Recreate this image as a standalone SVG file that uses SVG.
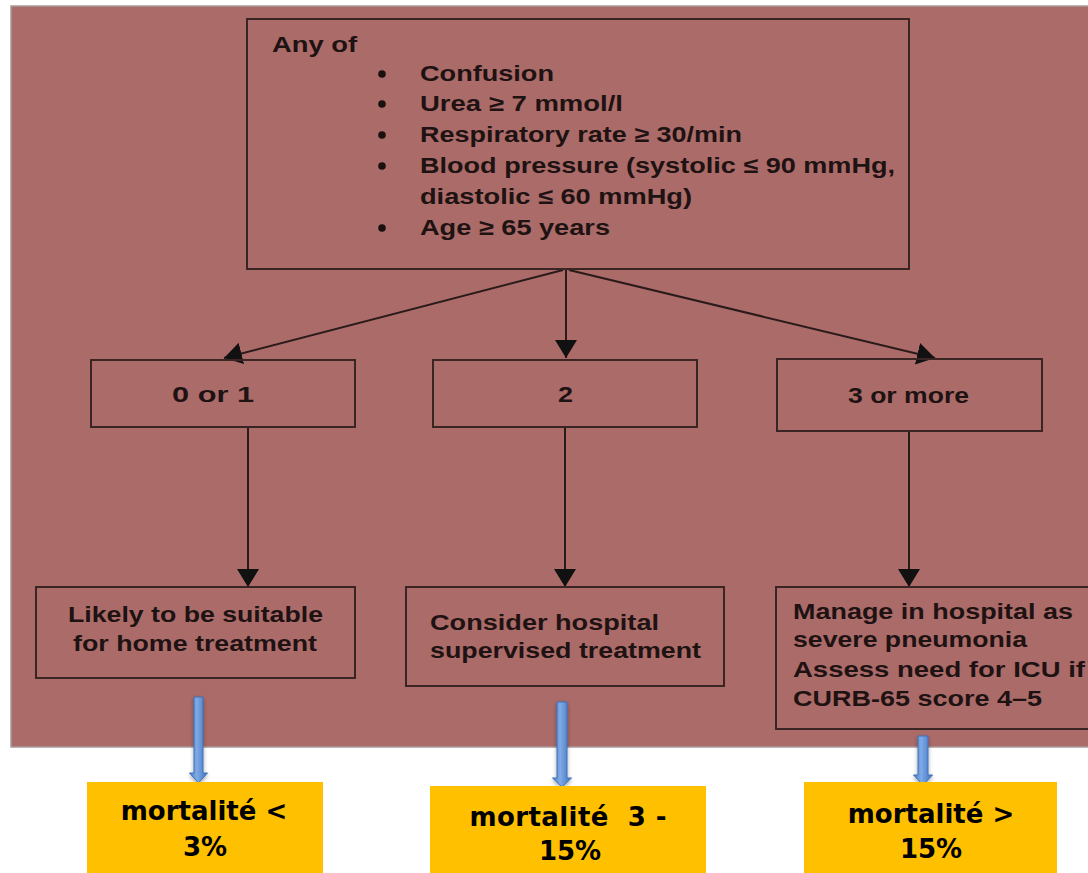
<svg xmlns="http://www.w3.org/2000/svg" width="1088" height="873" viewBox="0 0 1088 873">
  <defs>
    <style>
      .box{fill:none;stroke:#3a2424;stroke-width:2}
      .t{font-family:"Liberation Sans",Arial,sans-serif;font-weight:bold;font-size:22px;fill:#1e1212}
      .c{stroke:#2a1a1a;stroke-width:2;fill:none}
      .y{fill:#ffc000}
      .yt{font-family:"DejaVu Sans",Verdana,sans-serif;font-weight:bold;font-size:26px;fill:#000;text-anchor:middle}
      .blue{fill:url(#bg);stroke:#3f70b8;stroke-width:1}
    </style>
    <marker id="ahv" viewBox="0 0 18 22" refX="18" refY="11" markerWidth="18" markerHeight="22" markerUnits="userSpaceOnUse" orient="auto">
      <path d="M0,0 L18,11 L0,22 Z" fill="#111"/>
    </marker>
    <linearGradient id="bg" x1="0" y1="0" x2="1" y2="0">
      <stop offset="0" stop-color="#4a7dc6"/>
      <stop offset="0.4" stop-color="#7faae6"/>
      <stop offset="1" stop-color="#3f72be"/>
    </linearGradient>
    <filter id="sh" x="-50%" y="-10%" width="200%" height="130%">
      <feGaussianBlur in="SourceAlpha" stdDeviation="2"/>
      <feOffset dx="0" dy="2"/>
      <feComponentTransfer><feFuncA type="linear" slope="0.35"/></feComponentTransfer>
      <feMerge><feMergeNode/><feMergeNode in="SourceGraphic"/></feMerge>
    </filter>
  </defs>

  <rect x="0" y="0" width="1088" height="873" fill="#ffffff"/>
  <rect id="background" x="11" y="6" width="1080" height="741" fill="#ab6b69" stroke="#a89a9a" stroke-width="1.5"/>

  <g id="connectors">
    <line class="c" x1="563" y1="270" x2="224" y2="358" marker-end="url(#ahv)"/>
    <line class="c" x1="566" y1="270" x2="566" y2="358" marker-end="url(#ahv)"/>
    <line class="c" x1="569" y1="270" x2="935" y2="358" marker-end="url(#ahv)"/>
    <line class="c" x1="248" y1="428" x2="248" y2="587" marker-end="url(#ahv)"/>
    <line class="c" x1="565" y1="428" x2="565" y2="587" marker-end="url(#ahv)"/>
    <line class="c" x1="909" y1="431" x2="909" y2="587" marker-end="url(#ahv)"/>
    <g filter="url(#sh)">
      <path class="blue" d="M194,697 H203 V773 H207.5 L198.5,783 L189.5,773 H194 Z"/>
      <path class="blue" d="M557,702 H567 V778 H571.5 L562,787 L552.5,778 H557 Z"/>
      <path class="blue" d="M918,736 H928 V775 H932.5 L923,785 L913.5,775 H918 Z"/>
    </g>
  </g>

  <g id="criteria">
    <rect class="box" x="247" y="19" width="662" height="250"/>
    <text class="t" x="272" y="52" textLength="85" lengthAdjust="spacingAndGlyphs">Any of</text>
    <g fill="#1a1010">
      <circle cx="382" cy="74" r="3.8"/>
      <circle cx="382" cy="104" r="3.8"/>
      <circle cx="382" cy="135" r="3.8"/>
      <circle cx="382" cy="166" r="3.8"/>
      <circle cx="382" cy="228" r="3.8"/>
    </g>
    <text class="t" x="420" y="81" textLength="134" lengthAdjust="spacingAndGlyphs">Confusion</text>
    <text class="t" x="420" y="111" textLength="203" lengthAdjust="spacingAndGlyphs">Urea ≥ 7 mmol/l</text>
    <text class="t" x="420" y="142" textLength="322" lengthAdjust="spacingAndGlyphs">Respiratory rate ≥ 30/min</text>
    <text class="t" x="420" y="173" textLength="475" lengthAdjust="spacingAndGlyphs">Blood pressure (systolic ≤ 90 mmHg,</text>
    <text class="t" x="420" y="204" textLength="272" lengthAdjust="spacingAndGlyphs">diastolic ≤ 60 mmHg)</text>
    <text class="t" x="420" y="235" textLength="190" lengthAdjust="spacingAndGlyphs">Age ≥ 65 years</text>
  </g>

  <g id="score01">
    <rect class="box" x="91" y="360" width="264" height="67"/>
    <text class="t" x="172" y="402" textLength="82" lengthAdjust="spacingAndGlyphs">0 or 1</text>
  </g>
  <g id="score2">
    <rect class="box" x="433" y="360" width="264" height="67"/>
    <text class="t" x="558" y="402" textLength="15" lengthAdjust="spacingAndGlyphs">2</text>
  </g>
  <g id="score3">
    <rect class="box" x="777" y="359" width="265" height="72"/>
    <text class="t" x="848" y="403" textLength="121" lengthAdjust="spacingAndGlyphs">3 or more</text>
  </g>

  <g id="home">
    <rect class="box" x="36" y="587" width="319" height="91"/>
    <text class="t" x="68" y="622" textLength="255" lengthAdjust="spacingAndGlyphs">Likely to be suitable</text>
    <text class="t" x="73" y="651" textLength="244" lengthAdjust="spacingAndGlyphs">for home treatment</text>
  </g>
  <g id="hospital">
    <rect class="box" x="406" y="587" width="318" height="99"/>
    <text class="t" x="430" y="630" textLength="229" lengthAdjust="spacingAndGlyphs">Consider hospital</text>
    <text class="t" x="430" y="658" textLength="271" lengthAdjust="spacingAndGlyphs">supervised treatment</text>
  </g>
  <g id="severe">
    <rect class="box" x="776" y="587" width="320" height="142"/>
    <text class="t" x="793" y="619" textLength="280" lengthAdjust="spacingAndGlyphs">Manage in hospital as</text>
    <text class="t" x="793" y="647" textLength="234" lengthAdjust="spacingAndGlyphs">severe pneumonia</text>
    <text class="t" x="793" y="677" textLength="292" lengthAdjust="spacingAndGlyphs">Assess need for ICU if</text>
    <text class="t" x="793" y="706" textLength="249" lengthAdjust="spacingAndGlyphs">CURB-65 score 4–5</text>
  </g>

  <g id="mort1">
    <rect class="y" x="87" y="782" width="236" height="91"/>
    <text class="yt" x="204" y="820">mortalité &lt;</text>
    <text class="yt" x="205" y="856">3%</text>
  </g>
  <g id="mort2">
    <rect class="y" x="430" y="786" width="276" height="87"/>
    <text class="yt" x="568" y="826" xml:space="preserve" textLength="197" lengthAdjust="spacing">mortalité  3 -</text>
    <text class="yt" x="570" y="860">15%</text>
  </g>
  <g id="mort3">
    <rect class="y" x="804" y="782" width="253" height="91"/>
    <text class="yt" x="931" y="823">mortalité &gt;</text>
    <text class="yt" x="931" y="858">15%</text>
  </g>
</svg>
